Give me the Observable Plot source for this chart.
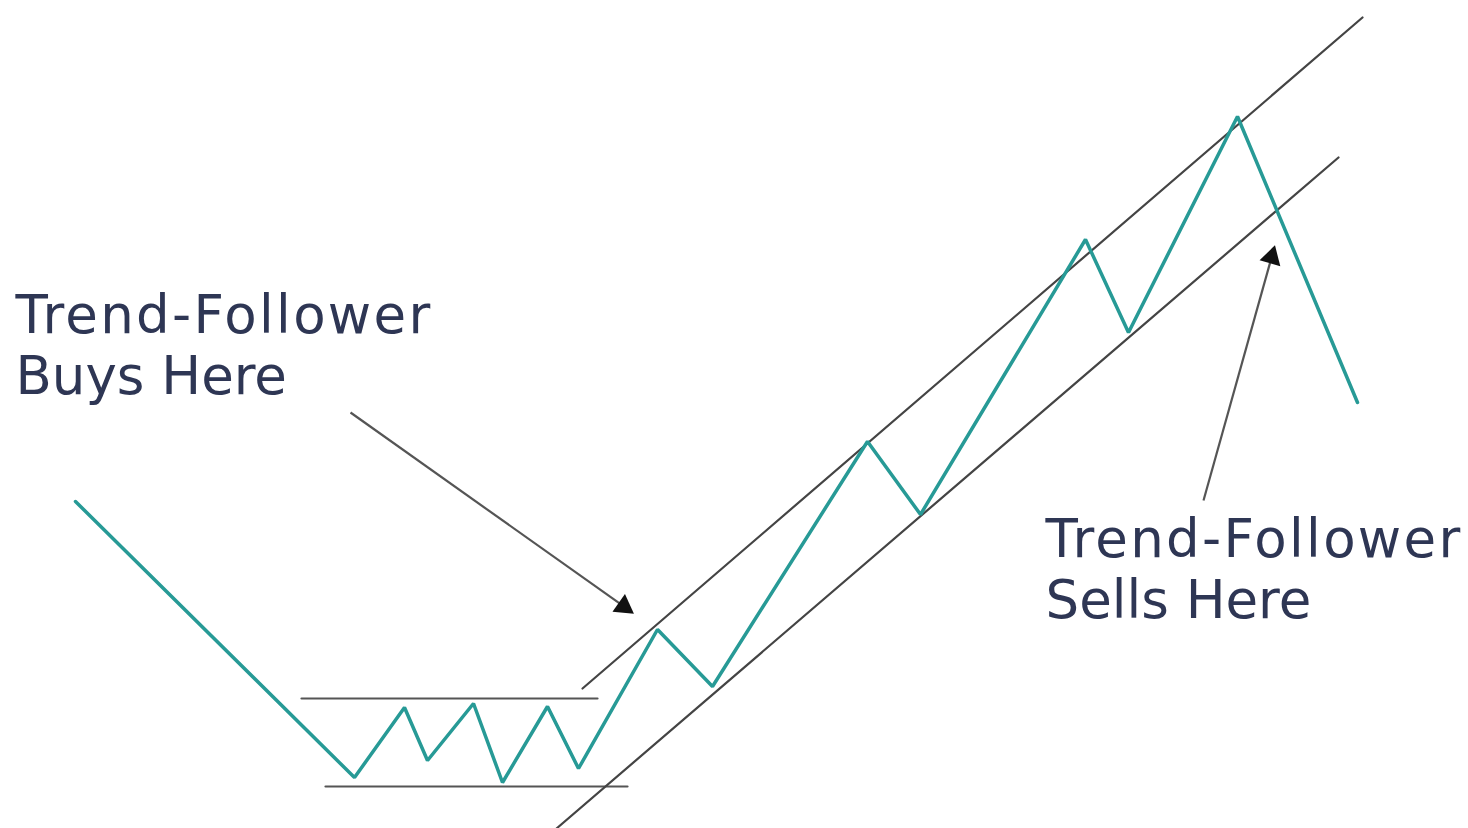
<!DOCTYPE html>
<html>
<head>
<meta charset="utf-8">
<script src="https://cdn.jsdelivr.net/npm/d3@7"></script>
<script src="https://cdn.jsdelivr.net/npm/@observablehq/plot@0.6"></script>
<style>
  html, body { margin: 0; padding: 0; background: #ffffff; }
  #chart { width: 1468px; height: 828px; overflow: hidden; }
</style>
</head>
<body>
<div id="chart"></div>
<script>
// Price path (illustrative units, y grows downward like the picture)
const priceX = [75, 354, 404, 427, 473, 502, 547, 578, 657, 712, 867, 920, 1085, 1128, 1237, 1357];
const priceY = [501, 777, 707, 760, 703, 782, 706, 768, 629, 686, 441, 514, 239, 332, 116, 402];

// Range (consolidation) lines
const rangeTopX = [301, 597];
const rangeTopY = [698, 698];
const rangeBottomX = [325, 627];
const rangeBottomY = [786, 786];

// Trend channel lines
const channelUpperX = [582, 1362];
const channelUpperY = [688, 17];
const channelLowerX = [556, 1338];
const channelLowerY = [828, 157];

// Annotation arrows: [startX, startY, tipX, tipY]
const buyArrow = [350, 412, 629, 610];
const sellArrow = [1203, 500, 1273, 250];

// Labels
const labelTexts = ["Trend-Follower\nBuys Here", "Trend-Follower\nSells Here"];
const labelX = [15, 1045];
const labelY = [393, 617];

const price = priceX.map((x, i) => ({x, y: priceY[i]}));
const toPts = (xs, ys) => xs.map((x, i) => ({x, y: ys[i]}));
const arrows = [buyArrow, sellArrow].map(([x1, y1, x2, y2]) => {
  const len = Math.hypot(x2 - x1, y2 - y1);
  const ux = (x2 - x1) / len, uy = (y2 - y1) / len;
  const back = 7; // move triangle centre back from tip
  return {
    x1, y1, x2: x2 - ux * 10, y2: y2 - uy * 10,
    hx: x2 - ux * back, hy: y2 - uy * back,
    rot: Math.atan2(ux, -uy) * 180 / Math.PI
  };
});
const labels = labelTexts.map((t, i) => ({t, x: labelX[i], y: labelY[i]}));

const chart = Plot.plot({
  width: 1468,
  height: 828,
  margin: 0,
  x: {domain: [0, 1468], axis: null},
  y: {domain: [828, 0], axis: null},
  style: {background: "#ffffff"},
  marks: [
    Plot.line(toPts(rangeTopX, rangeTopY), {x: "x", y: "y", stroke: "#555555", strokeWidth: 2.2}),
    Plot.line(toPts(rangeBottomX, rangeBottomY), {x: "x", y: "y", stroke: "#555555", strokeWidth: 2.2}),
    Plot.line(toPts(channelUpperX, channelUpperY), {x: "x", y: "y", stroke: "#444444", strokeWidth: 2.2}),
    Plot.line(toPts(channelLowerX, channelLowerY), {x: "x", y: "y", stroke: "#444444", strokeWidth: 2.2}),
    Plot.line(price, {x: "x", y: "y", stroke: "#279a96", strokeWidth: 3.5, strokeLinejoin: "miter"}),
    Plot.link(arrows, {x1: "x1", y1: "y1", x2: "x2", y2: "y2", stroke: "#555555", strokeWidth: 2.2}),
    Plot.dot(arrows, {x: "hx", y: "hy", symbol: "triangle", r: 8, fill: "#111111", stroke: "none", rotate: "rot"}),
    Plot.text(labels, {
      x: "x", y: "y", text: "t",
      textAnchor: "start", lineAnchor: "bottom",
      fontSize: 53, lineHeight: 61 / 53,
      fontFamily: "'DejaVu Sans', sans-serif",
      fill: "#2e3654"
    })
  ]
});
// widen the first label line slightly to match the wider geometric face
chart.querySelectorAll("tspan").forEach(ts => {
  if (ts.textContent.startsWith("Trend")) ts.setAttribute("letter-spacing", "2.3");
});
document.getElementById("chart").appendChild(chart);
</script>
</body>
</html>
